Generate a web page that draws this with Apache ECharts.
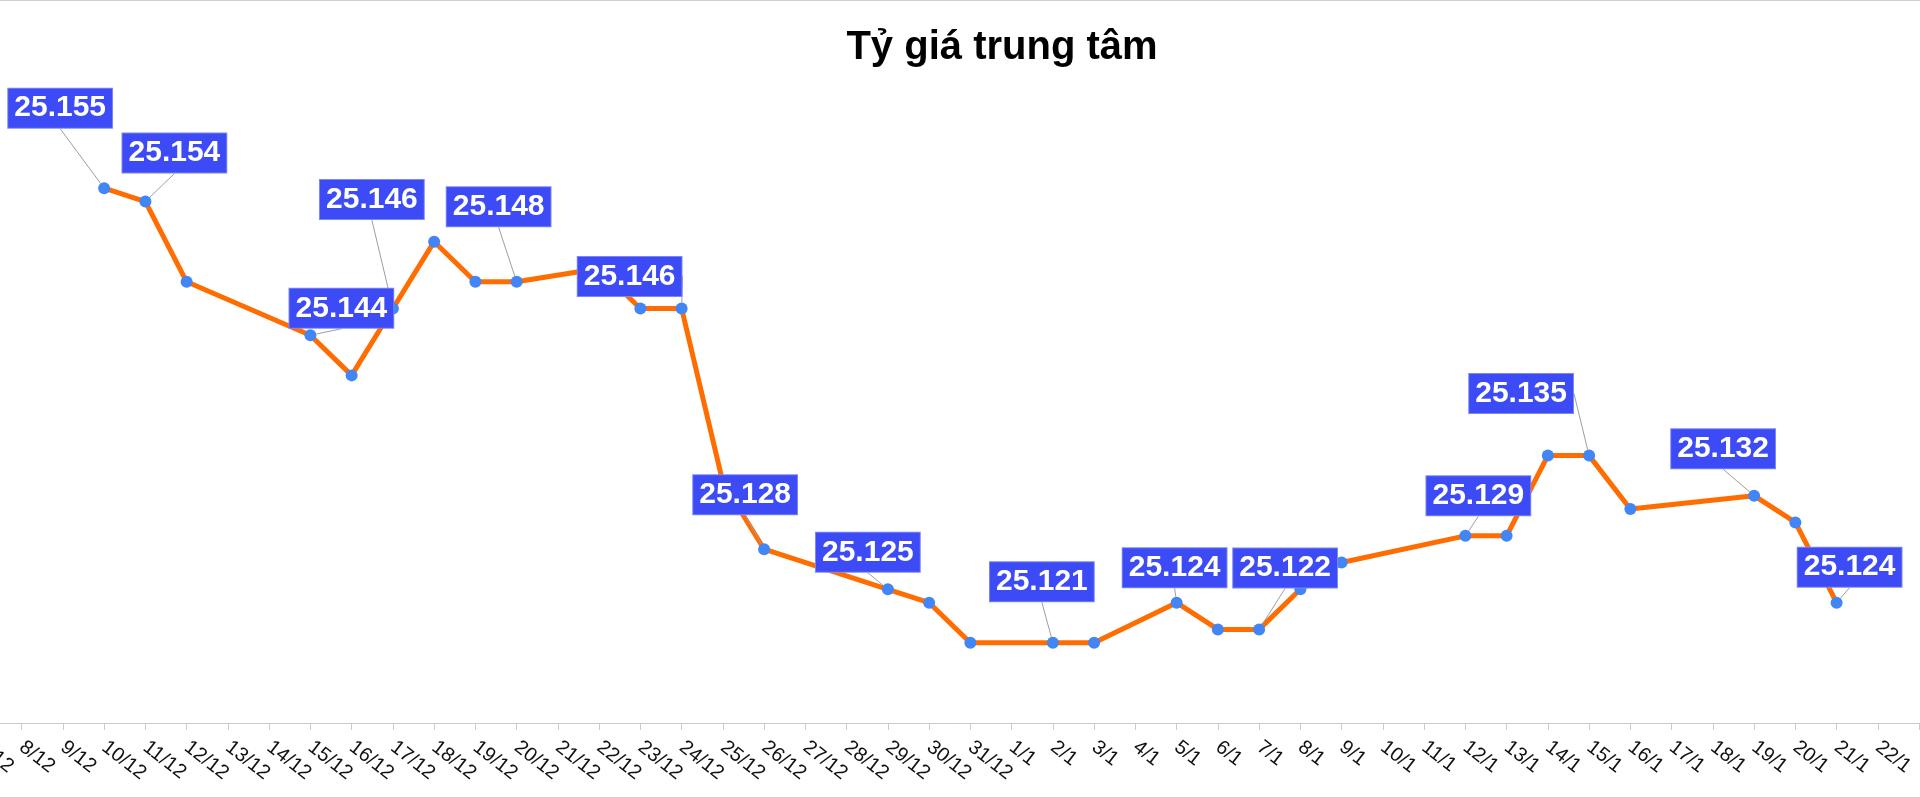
<!DOCTYPE html>
<html>
<head>
<meta charset="utf-8">
<script src="https://cdn.jsdelivr.net/npm/echarts@6/dist/echarts.min.js"></script>
<style>
html,body{margin:0;padding:0;background:#fff;}
#wrap{position:relative;width:1920px;height:798px;}
#chart{position:absolute;left:0;top:0;width:1920px;height:798px;}
#frame{position:absolute;left:0;top:0;width:1920px;height:798px;box-sizing:border-box;border-top:1px solid #d0d0d0;border-bottom:1px solid #d0d0d0;pointer-events:none;}
</style>
</head>
<body>
<div id="wrap"><div id="chart"></div><div id="frame"></div></div>
<script>
// ---- data ----
const categories = [
  '7/12','8/12','9/12','10/12','11/12','12/12','13/12','14/12','15/12','16/12','17/12','18/12','19/12','20/12',
  '21/12','22/12','23/12','24/12','25/12','26/12','27/12','28/12','29/12','30/12','31/12',
  '1/1','2/1','3/1','4/1','5/1','6/1','7/1','8/1','9/1','10/1','11/1','12/1','13/1','14/1','15/1',
  '16/1','17/1','18/1','19/1','20/1','21/1','22/1'
];
const rateValues = [
  null, null, null, 25.155, 25.154, 25.148, null, null, 25.144, 25.141, 25.146, 25.151, 25.148, 25.148,
  null, 25.149, 25.146, 25.146, 25.133, 25.128, null, null, 25.125, 25.124, 25.121,
  null, 25.121, 25.121, null, 25.124, 25.122, 25.122, 25.125, 25.127, null, null, 25.129, 25.129, 25.135, 25.135,
  25.131, null, null, 25.132, 25.130, 25.124, null
];
const labeledDates = ['10/12','11/12','15/12','17/12','20/12','24/12','26/12','29/12','2/1','5/1','7/1','12/1','15/1','19/1','21/1'];
const titleText = 'Tỷ giá trung tâm';

// ---- label placement (style only): box centre offset from its point, px ----
const labelOffsets = {
  '10/12':[-44,-80], '11/12':[29,-48.5], '15/12':[31,-27], '17/12':[-21,-109], '20/12':[-18,-75],
  '24/12':[-52,-32], '26/12':[-19,-54.5], '29/12':[-20,-37], '2/1':[-11,-61], '5/1':[-2,-35],
  '7/1':[26,-61.5], '12/1':[13,-40], '15/1':[-68,-62], '19/1':[-31,-47], '21/1':[13,-35.5]
};

const seriesData = rateValues.map(function(v, i){
  if (v == null) return '-';
  return { value: v, label: { show: labeledDates.indexOf(categories[i]) >= 0 } };
});

const chart = echarts.init(document.getElementById('chart'), null, {renderer:'canvas'});
chart.setOption({
  backgroundColor: '#ffffff',
  animation: false,
  title: {
    text: titleText,
    left: 997,
    top: 23,
    textAlign: 'center',
    textStyle: { fontFamily: 'Liberation Sans, Arial, sans-serif', fontSize: 40, fontWeight: 'bold', color: '#000' }
  },
  grid: { left: -19.6, right: 0.9, top: 54.5, bottom: 75, containLabel: false, outerBoundsMode: 'none' },
  xAxis: {
    type: 'category',
    data: categories,
    boundaryGap: false,
    max: categories.length,
    axisLine: { show: true, lineStyle: { color: '#cccccc', width: 1 } },
    axisTick: { show: true, interval: 0, length: 7, lineStyle: { color: '#cccccc' } },
    axisLabel: {
      interval: 0, rotate: -38, margin: 22,
      fontFamily: 'Liberation Sans, Arial, sans-serif', fontSize: 20, color: '#111111'
    },
    splitLine: { show: false }
  },
  yAxis: {
    type: 'value', min: 25.115, max: 25.165, show: false,
    splitLine: { show: false }
  },
  series: [{
    type: 'line',
    data: seriesData,
    connectNulls: true,
    symbol: 'circle',
    symbolSize: 12,
    showSymbol: true,
    itemStyle: { color: '#4285f4' },
    lineStyle: { color: '#ff6d01', width: 5 },
    label: {
      show: false,
      formatter: function(p){ return Number(p.value).toFixed(3); },
      fontFamily: 'Liberation Sans, Arial, sans-serif',
      fontSize: 30, fontWeight: 'bold', color: '#ffffff',
      backgroundColor: '#3c4bf5', borderColor: '#7b86f8', borderWidth: 1,
      padding: [5, 6, 4, 6], lineHeight: 30
    },
    labelLine: { show: true, lineStyle: { color: '#9e9e9e', width: 1 } },
    labelLayout: function(params){
      const cat = categories[params.dataIndex];
      const off = labelOffsets[cat] || [0, -30];
      const r = params.rect;
      return {
        x: r.x + r.width / 2 + off[0],
        y: r.y + r.height / 2 + off[1],
        align: 'center',
        verticalAlign: 'middle'
      };
    },
    emphasis: { disabled: true },
    z: 2
  }]
});
</script>
</body>
</html>
